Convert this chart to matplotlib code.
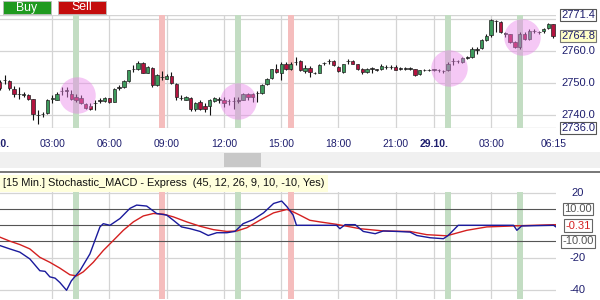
import numpy as np
import matplotlib.pyplot as plt
from matplotlib.patches import Rectangle
from matplotlib.transforms import blended_transform_factory

plt.rcParams['font.family'] = ['Liberation Sans', 'DejaVu Sans']

# 15 min candles, bar index 1..117 (28.10. 00:15 ... 29.10. 06:15)
opens = [2750.4, 2751.0, 2750.7, 2748.3, 2746.7, 2746.5, 2746.2, 2745.0, 2740.0, 2740.3,
         2740.7, 2745.1, 2744.9, 2747.6, 2747.7, 2746.8, 2745.6, 2745.5, 2743.6, 2743.0,
         2743.8, 2744.6, 2744.5, 2745.3, 2744.2, 2748.6, 2748.7, 2750.8, 2754.5, 2754.4,
         2756.5, 2753.3, 2754.8, 2749.6, 2752.0, 2751.5, 2752.2, 2749.9, 2745.4, 2744.9,
         2745.5, 2741.8, 2744.2, 2742.8, 2742.8, 2744.5, 2744.9, 2744.9, 2744.5, 2744.4,
         2744.6, 2744.9, 2746.8, 2746.8, 2746.9, 2747.0, 2749.9, 2751.7, 2754.4, 2753.3,
         2756.0, 2754.6, 2756.7, 2756.9, 2753.9, 2754.9, 2753.2, 2753.3, 2756.4, 2756.9,
         2756.9, 2755.2, 2753.4, 2756.9, 2756.9, 2755.9, 2754.6, 2753.6, 2754.6, 2754.3,
         2754.6, 2755.1, 2755.2, 2755.1, 2754.6, 2754.7, 2754.6, 2754.4, 2752.9, 2754.1,
         2754.2, 2754.3, 2754.1, 2753.9, 2754.1, 2756.9, 2756.9, 2756.7, 2758.0, 2758.3,
         2760.5, 2761.1, 2763.7, 2765.1, 2769.5, 2769.3, 2765.6, 2765.3, 2763.0, 2761.4,
         2765.6, 2764.0, 2766.4, 2766.1, 2766.4, 2767.2, 2768.5]
highs = [2750.9, 2752.5, 2751.0, 2749.1, 2748.7, 2747.3, 2746.5, 2745.2, 2741.6, 2741.0,
         2745.2, 2746.3, 2747.3, 2748.7, 2748.7, 2747.8, 2746.5, 2746.3, 2743.9, 2743.7,
         2744.7, 2745.5, 2745.8, 2745.5, 2748.4, 2749.4, 2751.0, 2754.3, 2755.7, 2756.9,
         2756.7, 2755.4, 2755.2, 2752.9, 2753.9, 2752.9, 2753.6, 2750.1, 2746.3, 2746.0,
         2745.7, 2744.2, 2744.7, 2743.7, 2745.2, 2745.8, 2745.8, 2745.8, 2745.2, 2745.8,
         2745.8, 2747.0, 2747.0, 2747.0, 2747.6, 2749.9, 2751.8, 2754.6, 2756.2, 2756.7,
         2756.7, 2756.7, 2758.3, 2757.2, 2755.7, 2755.4, 2753.6, 2755.9, 2756.7, 2757.5,
         2757.2, 2755.4, 2756.2, 2757.6, 2757.2, 2756.2, 2754.8, 2754.8, 2755.2, 2754.6,
         2756.2, 2755.6, 2755.6, 2755.6, 2755.0, 2755.0, 2755.0, 2754.6, 2754.3, 2754.4,
         2754.4, 2754.6, 2754.4, 2754.2, 2756.7, 2757.8, 2757.4, 2758.1, 2758.5, 2761.4,
         2761.4, 2764.0, 2765.3, 2770.0, 2769.8, 2769.6, 2766.1, 2765.6, 2763.3, 2766.1,
         2766.1, 2766.9, 2766.9, 2766.4, 2767.2, 2768.9, 2768.7]
lows = [2748.0, 2749.9, 2748.0, 2745.8, 2745.0, 2745.8, 2744.7, 2738.4, 2737.2, 2739.5,
        2740.3, 2743.7, 2744.7, 2746.3, 2745.8, 2744.7, 2744.2, 2743.5, 2742.1, 2741.6,
        2741.6, 2743.7, 2744.2, 2743.9, 2744.0, 2748.0, 2748.4, 2750.4, 2753.6, 2754.1,
        2753.1, 2753.1, 2748.9, 2749.3, 2751.0, 2751.2, 2749.9, 2744.9, 2744.7, 2744.7,
        2741.4, 2741.4, 2741.6, 2741.0, 2740.0, 2744.2, 2743.7, 2742.6, 2743.1, 2742.1,
        2743.7, 2744.7, 2744.7, 2744.2, 2744.2, 2746.8, 2749.4, 2751.4, 2753.1, 2751.0,
        2754.1, 2754.1, 2755.7, 2753.9, 2753.1, 2752.0, 2752.9, 2753.1, 2755.7, 2756.2,
        2755.4, 2753.5, 2753.1, 2756.2, 2755.9, 2754.3, 2752.9, 2753.3, 2753.1, 2753.9,
        2754.3, 2754.6, 2754.6, 2754.1, 2754.3, 2754.3, 2754.3, 2752.2, 2752.5, 2753.8,
        2753.8, 2754.0, 2753.6, 2753.3, 2753.8, 2755.7, 2756.4, 2756.4, 2757.6, 2757.8,
        2759.3, 2760.6, 2763.3, 2764.6, 2766.1, 2765.8, 2764.6, 2762.7, 2761.1, 2760.9,
        2763.7, 2763.7, 2765.8, 2765.6, 2765.8, 2766.9, 2764.3]
closes = [2748.4, 2750.9, 2748.4, 2746.5, 2746.6, 2746.4, 2745.0, 2740.5, 2740.1, 2740.4,
          2744.9, 2745.3, 2746.8, 2747.7, 2747.8, 2745.0, 2744.7, 2743.9, 2742.3, 2742.0,
          2743.9, 2744.7, 2745.4, 2744.2, 2748.2, 2748.7, 2750.7, 2754.1, 2754.6, 2756.5,
          2753.3, 2755.2, 2749.6, 2752.5, 2752.1, 2752.2, 2750.2, 2745.7, 2745.5, 2745.7,
          2741.8, 2743.9, 2741.8, 2742.1, 2744.7, 2745.4, 2745.0, 2743.9, 2744.6, 2744.5,
          2744.7, 2746.8, 2745.7, 2745.7, 2747.0, 2749.6, 2751.5, 2754.4, 2753.6, 2755.9,
          2754.4, 2756.2, 2756.8, 2754.1, 2754.9, 2753.7, 2753.3, 2755.7, 2756.5, 2757.0,
          2755.7, 2753.8, 2756.0, 2757.0, 2756.2, 2754.6, 2753.4, 2754.6, 2754.7, 2754.4,
          2755.4, 2755.2, 2755.1, 2754.3, 2754.7, 2754.6, 2754.6, 2752.5, 2754.1, 2754.2,
          2754.1, 2754.3, 2754.1, 2753.9, 2756.2, 2757.0, 2756.9, 2757.8, 2758.1, 2760.9,
          2760.6, 2763.5, 2764.8, 2769.8, 2769.6, 2766.1, 2765.7, 2763.0, 2761.4, 2765.6,
          2764.0, 2766.4, 2766.5, 2766.2, 2766.9, 2768.5, 2764.8]

# indicator (Stochastic_MACD)
macd_x = [1, 3.1, 5.2, 7.3, 9.4, 10.5, 11.5, 12.6, 13.6, 15, 16, 17.8, 19.9, 22, 22.7, 24.1,
          26.2, 28.3, 29.7, 31.8, 33.9, 36, 37.4, 39.1, 40.9, 43, 44.7, 46.5, 48.6, 50.3, 52,
          54.1, 56.3, 58.4, 60.1, 61.2, 62.5, 63.2, 71.6, 72.3, 73.4, 75.5, 77.2, 79.7, 81.4,
          84.2, 87, 88.4, 91.2, 94, 95, 97.1, 108.7, 109.4, 110.4, 117.1, 117.6]
macd_y = [-12.5, -14.6, -16.6, -20.8, -28.1, -28.5, -31.9, -32.7, -35.4, -40.2, -34.4, -28.1,
          -17.7, -1.0, 1.0, 0.0, 4.2, 10.5, 12.5, 11.9, 7.3, 6.3, 3.1, -1.0, -2.1, -3.8, -6.3,
          -4.6, -4.6, -3.8, 1.0, 3.5, 7.7, 13.5, 15.0, 11.5, 6.3, 0.0, 0.0, -2.1, 0.4, 0.4,
          -3.8, -5.2, -3.5, -3.8, -4.2, -6.3, -7.7, -8.3, -6.3, 0.0, 0.0, -3.1, -0.4, 0.0, -1.0]
sig_x = [1, 3.1, 5.2, 7.3, 9.4, 11.5, 13.6, 15.7, 17.1, 18.5, 20.6, 22.7, 24.8, 26.9, 29, 31.1,
         33.2, 35.3, 37.4, 40.2, 43, 45.8, 48.6, 50.7, 52.8, 55.5, 58.4, 61.2, 62.5, 63.9, 66,
         68.1, 71.6, 76.5, 81.4, 87, 90.5, 94.7, 98.9, 103.1, 108.7, 112.9, 117.6]
sig_y = [-7.3, -9.8, -11.9, -14.6, -19.8, -22.9, -26.5, -30.6, -31.3, -28.8, -22.9, -15.6, -9.4,
         -3.1, 2.1, 5.8, 7.3, 6.9, 5.2, 2.1, -0.6, -2.7, -3.8, -3.5, -1.5, 3.1, 7.7, 9.8, 8.3,
         6.3, 3.1, 2.1, 0.6, -2.1, -3.5, -3.8, -5.8, -6.5, -3.1, -1.0, -0.4, 0.0, 0.4]

buy_bars = [17, 51, 95, 110]
sell_bars = [35, 62]
circle_x = [17.2, 50.9, 95.2, 110.5]
circle_y = [2746.3, 2744.4, 2754.7, 2764.5]

tick_pos = [0, 12, 24, 36, 48, 60, 72, 84, 92, 104, 117]
tick_lab = ['28.10.', '03:00', '06:00', '09:00', '12:00', '15:00', '18:00', '21:00',
            '29.10.', '03:00', '06:15']
price_ticks = [2740, 2750, 2760, 2770]
ind_levels = [10, 0, -10]

navy = '#1e1e6e'
grid = '#d4d4d4'

fig = plt.figure(figsize=(6, 3), dpi=100)
fig.patch.set_facecolor('white')

ax1 = fig.add_axes([0, 1 - 128 / 300, 556 / 600, 113 / 300])
ax2 = fig.add_axes([0, 1 - 299 / 300, 556 / 600, 107 / 300])

for ax in (ax1, ax2):
    ax.set_xlim(1.05, 117.6)
    ax.set_xticks([])
    ax.set_yticks([])
    for s in ax.spines.values():
        s.set_visible(False)
    for t in tick_pos[1:-1]:
        ax.axvline(t, color=grid, lw=0.9, zorder=0)
    for b in buy_bars:
        ax.axvspan(b - 0.63, b + 0.63, color='#c3ddc3', lw=0, zorder=1)
    for b in sell_bars:
        ax.axvspan(b - 0.63, b + 0.63, color='#f5bdbd', lw=0, zorder=1)

# ---- price panel
ax1.set_ylim(2736.0, 2771.4)
for p in price_ticks:
    ax1.axhline(p, color=grid, lw=0.9, zorder=0)
ax1.axhline(2771.4, color=grid, lw=1.0, zorder=0)
ax1.axhline(2736.0, color=grid, lw=1.0, zorder=0)

idx = np.arange(1, len(opens) + 1)
o = np.array(opens)
c = np.array(closes)
body_col = np.where(c > o + 0.15, '#3d9a5c', np.where(c < o - 0.15, '#b3133f', '#222222'))
ax1.vlines(idx, lows, highs, color='#111111', lw=0.8, zorder=3)
h = np.maximum(np.abs(c - o), 0.06)
ax1.bar(idx, h, bottom=np.minimum(o, c), width=0.72, color=body_col,
        edgecolor='#222222', linewidth=0.5, zorder=4)

ax1.scatter(circle_x, circle_y, s=690, color='#ea86ea', alpha=0.45, lw=0, zorder=6)

tr = blended_transform_factory(ax1.transData, ax1.transAxes)
for t, lab in zip(tick_pos, tick_lab):
    bold = lab.endswith('.')
    ax1.text(t, -0.142, lab, transform=tr, ha='center', va='center', fontsize=7.5,
             color=navy, fontweight='bold' if bold else 'normal', clip_on=False)

ry = blended_transform_factory(ax1.transAxes, ax1.transData)
xr = 1.0395
for p in [2760, 2750, 2740]:
    ax1.text(xr, p, '%.1f' % p, transform=ry, ha='center', va='center', fontsize=8,
             color=navy, clip_on=False)
ax1.text(xr, 2770.0, '2770.0', transform=ry, ha='center', va='center', fontsize=8,
         color=navy, clip_on=False, zorder=5)
box = dict(boxstyle='square,pad=0.12', fc='white', ec='#555555', lw=0.8)
ax1.text(xr, 2771.4, '2771.4', transform=ry, ha='center', va='center', fontsize=8,
         color=navy, clip_on=False, bbox=box, zorder=7)
ax1.text(xr, closes[-1], '%.1f' % closes[-1], transform=ry, ha='center', va='center',
         fontsize=8, color=navy, clip_on=False,
         bbox=dict(boxstyle='square,pad=0.12', fc='#ffffc8', ec='#777777', lw=0.8), zorder=7)
ax1.text(xr, 2736.0, '2736.0', transform=ry, ha='center', va='center', fontsize=8,
         color=navy, clip_on=False, bbox=box, zorder=7)

# ---- indicator panel
ax2.set_ylim(-45.6, 20.6)
for lv in [20, -20, -40]:
    ax2.axhline(lv, color=grid, lw=0.9, zorder=0)
for lv in ind_levels:
    ax2.axhline(lv, color='#555555', lw=0.8, zorder=2)
ax2.plot(sig_x, sig_y, color='#d42020', lw=1.0, zorder=4)
ax2.plot(macd_x, macd_y, color='#1a1a9c', lw=1.0, zorder=5)

ry2 = blended_transform_factory(ax2.transAxes, ax2.transData)
for lv in [20, -20, -40]:
    ax2.text(xr, lv, str(lv), transform=ry2, ha='center', va='center', fontsize=8,
             color=navy, clip_on=False)
gbox = dict(boxstyle='square,pad=0.12', fc='white', ec='#666666', lw=0.8)
ax2.text(xr, 10, '10.00', transform=ry2, ha='center', va='center', fontsize=8,
         color='#555555', clip_on=False, bbox=gbox)
ax2.text(xr, -10, '-10.00', transform=ry2, ha='center', va='center', fontsize=8,
         color='#555555', clip_on=False, bbox=gbox)
ax2.text(xr, -0.31, '-0.31', transform=ry2, ha='center', va='center', fontsize=8,
         color='#d42020', clip_on=False, bbox=gbox)

# ---- chrome: buttons, scrollbar, separator, title
fig.patches.append(Rectangle((3 / 600, 1 - 14 / 300), 48 / 600, 13 / 300, transform=fig.transFigure,
                             fc='#1f9a1f', ec='#bbbbbb', lw=0.6))
fig.patches.append(Rectangle((58 / 600, 1 - 14 / 300), 48 / 600, 13 / 300, transform=fig.transFigure,
                             fc='#c40c0c', ec='#bbbbbb', lw=0.6))
fig.text(27 / 600, 1 - 7.5 / 300, 'Buy', color='white', fontsize=8.8, ha='center', va='center')
fig.text(82 / 600, 1 - 7.5 / 300, 'Sell', color='white', fontsize=8.8, ha='center', va='center')

fig.patches.append(Rectangle((0, 1 - 168 / 300), 1, 16 / 300, transform=fig.transFigure,
                             fc='#f0f0f0', ec='none'))
fig.patches.append(Rectangle((224 / 600, 1 - 167 / 300), 37 / 600, 14 / 300,
                             transform=fig.transFigure, fc='#c8c8c8', ec='none'))
fig.patches.append(Rectangle((0, 1 - 173 / 300), 1, 2 / 300, transform=fig.transFigure,
                             fc='#7a7a7a', ec='none'))

fig.patches.append(Rectangle((0, 1 - 192 / 300), 328 / 600, 17 / 300, transform=fig.transFigure,
                             fc='#ffffdc', ec='none'))
fig.text(3 / 600, 1 - 183.5 / 300,
         '[15 Min.] Stochastic_MACD - Express  (45, 12, 26, 9, 10, -10, Yes)',
         fontsize=7.9, color='#111111', ha='left', va='center')

fig.savefig('out.png', dpi=100)
